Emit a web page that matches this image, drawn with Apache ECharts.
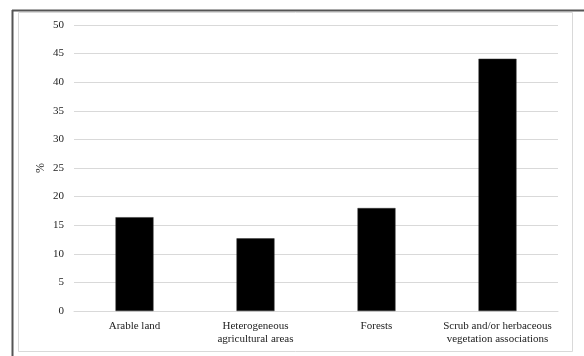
<!DOCTYPE html>
<html><head><meta charset="utf-8">
<script src="https://cdn.jsdelivr.net/npm/echarts@6/dist/echarts.min.js"></script>
<style>html,body{margin:0;padding:0;background:#fff}#c{width:584px;height:356px}</style>
</head><body><div id="c"></div>
<script>
var categories = ["Arable land", "Heterogeneous\nagricultural areas", "Forests", "Scrub and/or herbaceous\nvegetation associations"];
var values = [16.4, 12.7, 18.0, 44.1];
var yTicks = {min: 0, max: 50, interval: 5};

var chart = echarts.init(document.getElementById('c'), null, {renderer: 'canvas'});
var font = '"Liberation Serif", "Times New Roman", serif';
chart.setOption({
  animation: false,
  backgroundColor: '#fff',
  grid: {left: 74, right: 26, top: 25, bottom: 45},
  graphic: [
    {type: 'rect', shape: {x: 18.5, y: 12.5, width: 554, height: 339}, style: {fill: 'none', stroke: '#d9d9d9', lineWidth: 1}, silent: true},
    {type: 'line', shape: {x1: 12, y1: 10.5, x2: 584, y2: 10.5}, style: {stroke: '#555', lineWidth: 2}, silent: true},
    {type: 'line', shape: {x1: 12.5, y1: 10, x2: 12.5, y2: 356}, style: {stroke: '#555', lineWidth: 2}, silent: true}
  ],
  xAxis: {
    type: 'category',
    data: categories,
    axisLine: {show: true, lineStyle: {color: '#d9d9d9'}},
    axisTick: {show: false},
    axisLabel: {color: '#222', fontFamily: font, fontSize: 11, margin: 9, lineHeight: 13, interval: 0}
  },
  yAxis: {
    type: 'value',
    min: yTicks.min, max: yTicks.max, interval: yTicks.interval,
    name: '%',
    nameLocation: 'middle',
    nameRotate: 90,
    nameGap: 27,
    nameMoveOverlap: false,
    nameTextStyle: {color: '#222', fontFamily: font, fontSize: 12},
    axisLine: {show: false},
    axisTick: {show: false},
    axisLabel: {color: '#222', fontFamily: font, fontSize: 11, margin: 10},
    splitLine: {lineStyle: {color: '#d9d9d9', width: 1}}
  },
  series: [{
    type: 'bar',
    data: values,
    barWidth: 38,
    itemStyle: {color: '#000', borderColor: '#333', borderWidth: 0.5}
  }]
});
</script></body></html>
